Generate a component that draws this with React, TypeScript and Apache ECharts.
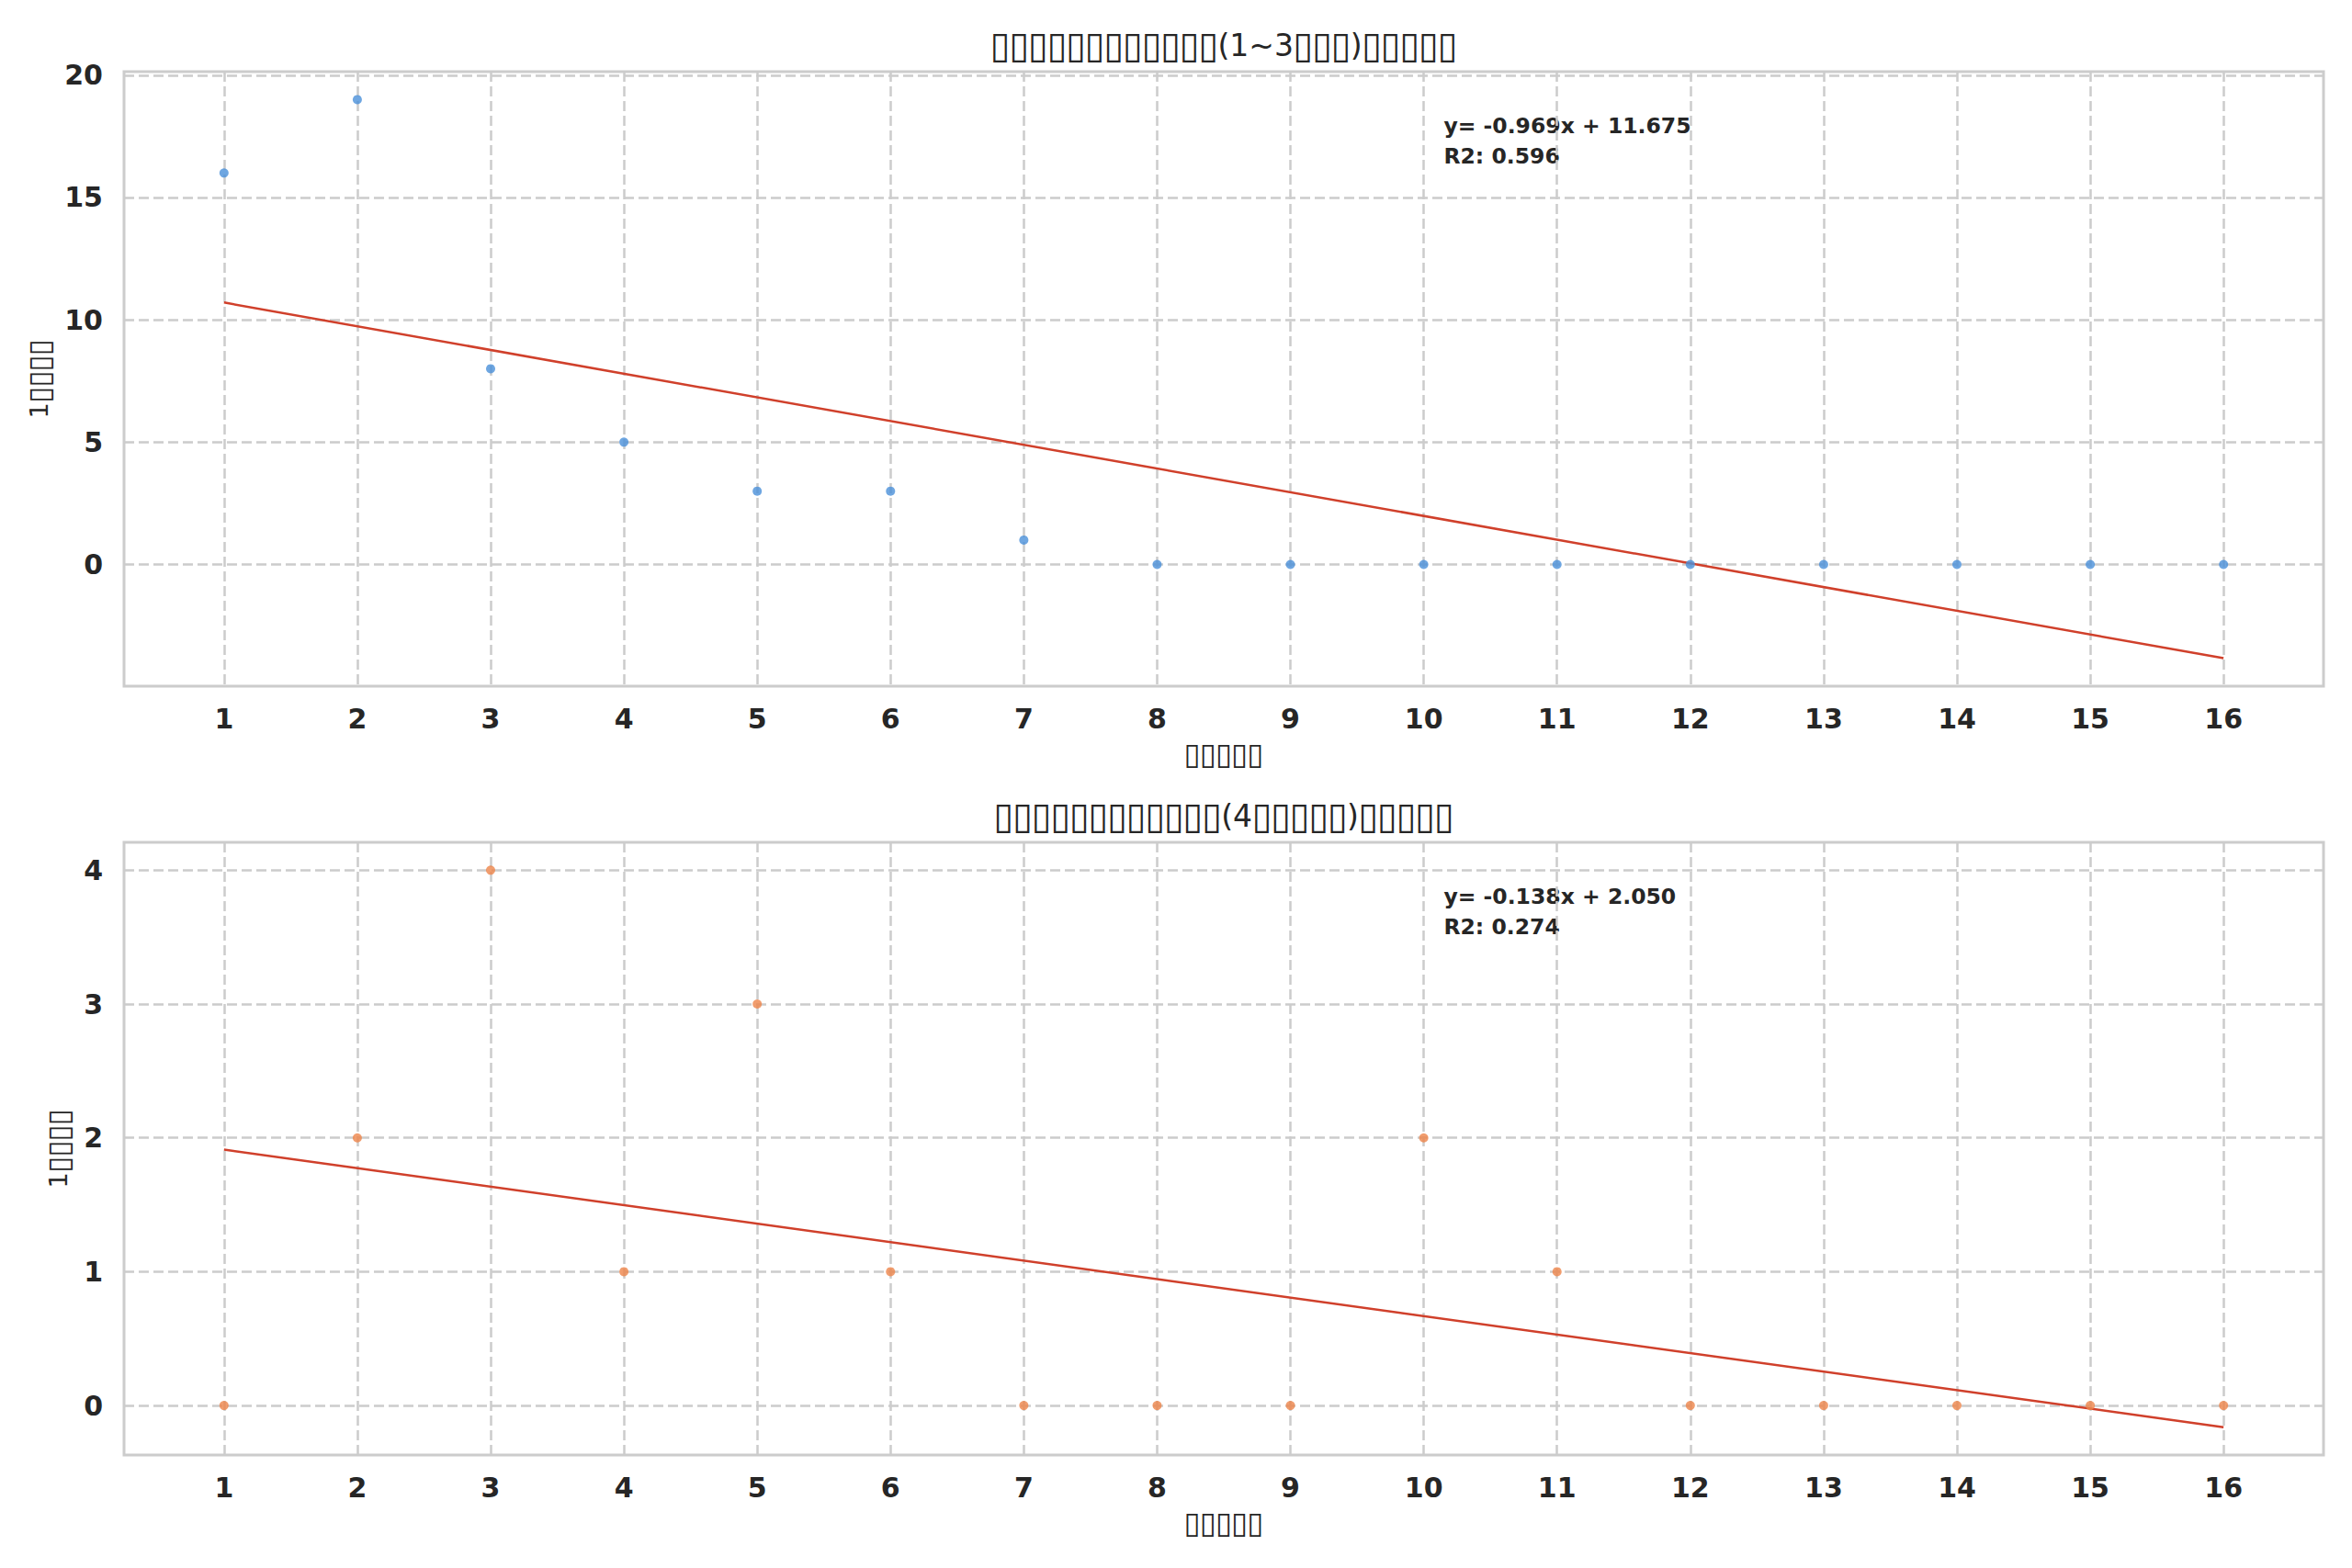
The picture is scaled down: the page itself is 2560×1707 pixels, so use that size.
import React, { useEffect, useRef } from "react";
import * as echarts from "echarts";

// ---- data ----
const xValues = [1, 2, 3, 4, 5, 6, 7, 8, 9, 10, 11, 12, 13, 14, 15, 16];
const earlyCounts = [16, 19, 8, 5, 3, 3, 1, 0, 0, 0, 0, 0, 0, 0, 0, 0];
const lateCounts = [0, 2, 4, 1, 3, 1, 0, 0, 0, 2, 1, 0, 0, 0, 0, 0];
const topYTicks = [0, 5, 10, 15, 20];
const bottomYTicks = [0, 1, 2, 3, 4];
const xTicks = xValues;
const titleTop = "▯▯▯▯▯▯▯▯▯▯▯▯(1~3▯▯▯)▯▯▯▯▯";
const titleBottom = "▯▯▯▯▯▯▯▯▯▯▯▯(4▯▯▯▯▯)▯▯▯▯▯";
const xName = "▯▯▯▯▯";
const yName = "1▯▯▯▯";

// ---- helpers ----
function regress(xs: number[], ys: number[]) {
  const n = xs.length;
  const mx = xs.reduce((a, b) => a + b, 0) / n;
  const my = ys.reduce((a, b) => a + b, 0) / n;
  let sxy = 0, sxx = 0, syy = 0;
  for (let i = 0; i < n; i++) {
    sxy += (xs[i] - mx) * (ys[i] - my);
    sxx += (xs[i] - mx) ** 2;
    syy += (ys[i] - my) ** 2;
  }
  const slope = sxy / sxx;
  const intercept = my - slope * mx;
  const r2 = (sxy * sxy) / (sxx * syy);
  return { slope, intercept, r2 };
}

function padRange(vals: number[]) {
  const lo = Math.min(...vals);
  const hi = Math.max(...vals);
  const m = (hi - lo) * 0.05;
  return [lo - m, hi + m];
}

// wrap box glyphs into a fixed-width rich style
function toRich(s: string) {
  let out = "";
  let buf = "";
  for (const ch of s) {
    if (ch === "▯") {
      if (buf) { out += `{t|${buf}}`; buf = ""; }
      out += "{b|▯}";
    } else {
      buf += ch;
    }
  }
  if (buf) out += `{t|${buf}}`;
  return out;
}

const W = 2560;
const H = 1707;
const GRID_LEFT = 135;
const GRID_RIGHT = 2529;
const GRID_W = GRID_RIGHT - GRID_LEFT;
const GRIDS = [
  { top: 78, height: 669 },
  { top: 917, height: 667 },
];
const TEXT = "#262626";
const GRIDLINE = "#cccccc";
const FONT = "DejaVu Sans";

function richStyles(size: number, boxSize: number, boxW: number) {
  return {
    t: { fontFamily: FONT, fontSize: size, color: TEXT, fill: TEXT, verticalAlign: "middle", lineHeight: size * 1.2 },
    b: {
      fontFamily: FONT,
      fontSize: boxSize,
      color: TEXT,
      fill: TEXT,
      width: boxW,
      align: "center",
      verticalAlign: "middle",
      lineHeight: size * 1.2,
    },
  };
}

export default function App() {
  const ref = useRef<HTMLDivElement>(null);

  useEffect(() => {
    if (!ref.current) return;
    const chart = echarts.init(ref.current, undefined, { renderer: "svg", width: W, height: H });

    const sets = [
      { ys: earlyCounts, color: "#4a90d9", ticks: topYTicks, title: titleTop, nameGap: 70 },
      { ys: lateCounts, color: "#ee854a", ticks: bottomYTicks, title: titleBottom, nameGap: 50 },
    ];

    const xr = padRange(xValues);
    const grid: any[] = [];
    const xAxis: any[] = [];
    const yAxis: any[] = [];
    const series: any[] = [];
    const graphic: any[] = [];
    const nameStyle = {
      fontFamily: FONT,
      fontSize: 27,
      color: TEXT,
      rich: richStyles(27, 33, 17.2),
    };

    sets.forEach((s, i) => {
      const reg = regress(xValues, s.ys);
      const x0 = xValues[0];
      const x1 = xValues[xValues.length - 1];
      const lineData = [
        [x0, reg.slope * x0 + reg.intercept],
        [x1, reg.slope * x1 + reg.intercept],
      ];
      const yr = padRange([...s.ys, lineData[0][1], lineData[1][1]]);
      const g = GRIDS[i];

      grid.push({
        left: GRID_LEFT,
        width: GRID_W,
        top: g.top,
        height: g.height,
        show: true,
        borderColor: GRIDLINE,
        borderWidth: 3,
        backgroundColor: "transparent",
      });
      xAxis.push({
        type: "value",
        gridIndex: i,
        min: xr[0],
        max: xr[1],
        name: toRich(xName),
        nameLocation: "middle",
        nameGap: 57,
        nameTextStyle: nameStyle,
        axisLine: { show: false },
        axisTick: { show: false, customValues: xTicks },
        axisLabel: {
          customValues: xTicks,
          margin: 20,
          fontFamily: FONT,
          fontWeight: "bold",
          fontSize: 30,
          color: TEXT,
        },
        splitLine: { show: true, lineStyle: { color: GRIDLINE, width: 2.5, type: [11, 5] } },
      });
      yAxis.push({
        type: "value",
        gridIndex: i,
        min: yr[0],
        max: yr[1],
        name: toRich(yName),
        nameLocation: "middle",
        nameGap: s.nameGap,
        nameTextStyle: nameStyle,
        axisLine: { show: false },
        axisTick: { show: false, customValues: s.ticks },
        axisLabel: {
          customValues: s.ticks,
          margin: 23,
          fontFamily: FONT,
          fontWeight: "bold",
          fontSize: 30,
          color: TEXT,
        },
        splitLine: { show: true, lineStyle: { color: GRIDLINE, width: 2.5, type: [11, 5] } },
      });
      series.push({
        type: "scatter",
        xAxisIndex: i,
        yAxisIndex: i,
        data: xValues.map((x, k) => [x, s.ys[k]]),
        symbolSize: 10,
        itemStyle: { color: s.color },
        z: 3,
      });
      series.push({
        type: "line",
        xAxisIndex: i,
        yAxisIndex: i,
        data: lineData,
        symbol: "none",
        lineStyle: { color: "#d0402b", width: 2.5 },
        z: 2,
      });

      const sign = reg.intercept >= 0 ? "+" : "-";
      graphic.push({
        type: "text",
        x: GRID_LEFT + GRID_W / 2,
        y: g.top - 29,
        style: {
          text: toRich(s.title),
          align: "center",
          verticalAlign: "middle",
          fontFamily: FONT,
          fontSize: 33,
          fill: TEXT,
          rich: richStyles(33, 40, 20.6),
        },
      });
      graphic.push({
        type: "text",
        x: GRID_LEFT + GRID_W * 0.6,
        y: g.top + 42,
        style: {
          text: `y= ${reg.slope.toFixed(3)}x ${sign} ${Math.abs(reg.intercept).toFixed(3)}\nR2: ${reg.r2.toFixed(3)}`,
          align: "left",
          verticalAlign: "top",
          fontFamily: FONT,
          fontWeight: "bold",
          fontSize: 23.5,
          lineHeight: 33,
          fill: TEXT,
        },
      });
    });

    chart.setOption({
      animation: false,
      backgroundColor: "#ffffff",
      grid,
      xAxis,
      yAxis,
      series,
      graphic,
    });

    return () => chart.dispose();
  }, []);

  return (
    <div
      ref={ref}
      style={{ position: "fixed", left: 0, top: 0, width: W, height: H, background: "#fff" }}
    />
  );
}
